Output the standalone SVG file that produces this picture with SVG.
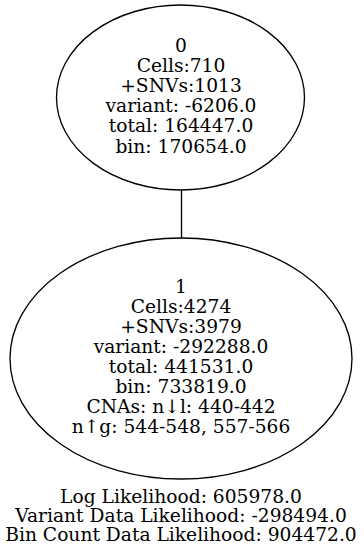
<svg xmlns="http://www.w3.org/2000/svg" width="364" height="550" viewBox="0 0 364 550">
  <style>
    .node ellipse { fill: none; stroke: #000; stroke-width: 1.33; }
    .edge line { stroke: #000; stroke-width: 1.33; }
    text { font-family: "DejaVu Serif", "Liberation Serif", serif; font-size: 18.67px; text-anchor: middle; fill: #000; }
  </style>
  <rect width="364" height="550" fill="#fff"/>
  <g id="edges" class="edge">
    <line x1="181.5" y1="190" x2="181.5" y2="238"/>
  </g>
  <g id="node0" class="node">
    <ellipse cx="180.5" cy="97.5" rx="124" ry="92.5"/>
    <text x="181" y="52">0</text>
    <text x="181" y="72">Cells:710</text>
    <text x="181" y="92">+SNVs:1013</text>
    <text x="181" y="112">variant: -6206.0</text>
    <text x="181" y="132">total: 164447.0</text>
    <text x="181" y="153">bin: 170654.0</text>
  </g>
  <g id="node1" class="node">
    <ellipse cx="181" cy="358.5" rx="171" ry="120.5"/>
    <text x="181" y="293">1</text>
    <text x="181" y="313">Cells:4274</text>
    <text x="181" y="333">+SNVs:3979</text>
    <text x="181" y="353">variant: -292288.0</text>
    <text x="181" y="373">total: 441531.0</text>
    <text x="181" y="393">bin: 733819.0</text>
    <text x="181" y="413">CNAs: n↓l: 440-442</text>
    <text x="181" y="433">n↑g: 544-548, 557-566</text>
  </g>
  <g id="summary">
    <text x="181" y="503">Log Likelihood: 605978.0</text>
    <text x="181" y="522">Variant Data Likelihood: -298494.0</text>
    <text x="181" y="541">Bin Count Data Likelihood: 904472.0</text>
  </g>
</svg>
